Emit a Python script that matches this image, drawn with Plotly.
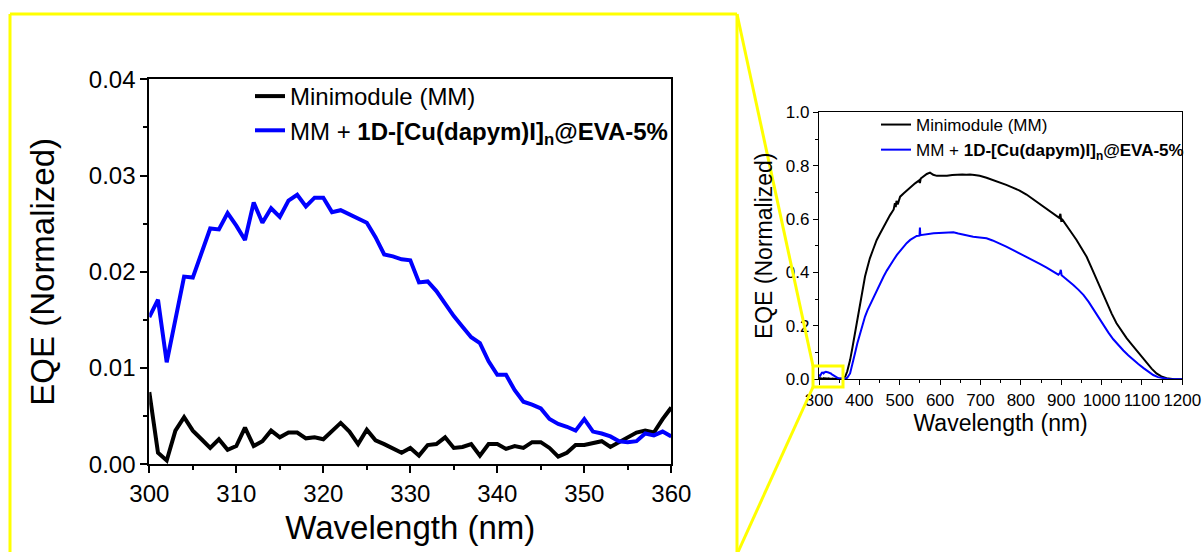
import plotly.graph_objects as go

# ---------------- data ----------------
# Zoomed region (300-360 nm), 1 nm steps
wl_zoom = list(range(300, 361))
mm_zoom = [0.0075, 0.0012, 0.0004, 0.0035, 0.0049, 0.0035, 0.0026, 0.0017, 0.0026, 0.0015,
           0.0019, 0.0038, 0.0019, 0.0024, 0.0035, 0.0028, 0.0033, 0.0033, 0.0027, 0.0028,
           0.0026, 0.0034, 0.0043, 0.0034, 0.0021, 0.0036, 0.0025, 0.0021, 0.0016, 0.0012,
           0.0017, 0.0009, 0.0020, 0.0021, 0.0028, 0.0017, 0.0018, 0.0021, 0.0009, 0.0021,
           0.0021, 0.0016, 0.0019, 0.0017, 0.0023, 0.0023, 0.0017, 0.0008, 0.0012, 0.0020,
           0.0020, 0.0022, 0.0024, 0.0018, 0.0023, 0.0027, 0.0033, 0.0035, 0.0033, 0.0047,
           0.0059]
cu_zoom = [0.0153, 0.0171, 0.0106, 0.0151, 0.0195, 0.0194, 0.0221, 0.0245, 0.0244, 0.0261,
           0.0248, 0.0233, 0.0272, 0.0251, 0.0266, 0.0257, 0.0274, 0.0280, 0.0268, 0.0277,
           0.0277, 0.0262, 0.0264, 0.0260, 0.0256, 0.0251, 0.0236, 0.0218, 0.0216, 0.0213,
           0.0212, 0.0189, 0.0190, 0.0180, 0.0167, 0.0154, 0.0143, 0.0132, 0.0126, 0.0107,
           0.0093, 0.0093, 0.0077, 0.0065, 0.0062, 0.0058, 0.0047, 0.0042, 0.0039, 0.0035,
           0.0047, 0.0034, 0.0032, 0.0029, 0.0024, 0.0023, 0.0024, 0.0032, 0.0030, 0.0034,
           0.0029]

# Full spectrum beyond 360 nm
wl_mm_ext = [365, 370, 377, 383, 389, 395, 402, 408, 414, 420, 426, 435, 443, 452, 460, 468,
             476, 485, 488, 490, 492, 495, 501, 510, 518, 526, 538, 548, 550, 552, 560, 567,
             575, 583, 592, 605, 617, 630, 641, 655, 665, 674, 685, 698, 715, 731, 748, 764,
             780, 797, 814, 831, 848, 864, 880, 895, 898, 900, 903, 914, 926, 938, 950, 963,
             975, 988, 1000, 1013, 1025, 1037, 1050, 1062, 1075, 1087, 1100, 1112, 1124, 1136,
             1148, 1161, 1170, 1180, 1200]
mm_ext = [0.010, 0.030, 0.072, 0.120, 0.172, 0.235, 0.297, 0.345, 0.385, 0.420, 0.453, 0.490,
          0.522, 0.548, 0.572, 0.594, 0.615, 0.636, 0.660, 0.645, 0.668, 0.655, 0.684, 0.697,
          0.708, 0.719, 0.734, 0.745, 0.735, 0.752, 0.762, 0.769, 0.774, 0.766, 0.762, 0.762,
          0.762, 0.765, 0.767, 0.767, 0.766, 0.767, 0.765, 0.762, 0.755, 0.747, 0.738, 0.728,
          0.718, 0.707, 0.692, 0.674, 0.658, 0.640, 0.622, 0.605, 0.620, 0.595, 0.598, 0.572,
          0.548, 0.522, 0.492, 0.459, 0.418, 0.372, 0.330, 0.285, 0.246, 0.210, 0.180, 0.154,
          0.130, 0.107, 0.083, 0.060, 0.040, 0.022, 0.011, 0.004, 0.001, 0.0, 0.0]

wl_cu_ext = [365, 370, 377, 383, 389, 395, 402, 408, 414, 420, 426, 435, 443, 452, 460, 468,
             476, 485, 493, 501, 509, 517, 526, 534, 542, 549, 550, 551, 559, 570, 584, 597,
             609, 621, 633, 645, 658, 670, 682, 698, 715, 730, 748, 751, 764, 781, 797, 814,
             830, 847, 864, 880, 893, 897, 899, 901, 905, 918, 930, 943, 955, 968, 980, 993,
             1005, 1017, 1029, 1041, 1054, 1066, 1079, 1091, 1104, 1116, 1128, 1140, 1153,
             1165, 1180, 1200]
cu_ext = [0.002, 0.006, 0.022, 0.055, 0.097, 0.135, 0.172, 0.205, 0.235, 0.258, 0.278, 0.308,
          0.335, 0.360, 0.385, 0.407, 0.428, 0.448, 0.466, 0.482, 0.497, 0.510, 0.522, 0.530,
          0.537, 0.538, 0.568, 0.540, 0.542, 0.545, 0.547, 0.548, 0.549, 0.550, 0.551, 0.546,
          0.541, 0.537, 0.534, 0.531, 0.528, 0.520, 0.509, 0.505, 0.497, 0.484, 0.472, 0.459,
          0.446, 0.432, 0.418, 0.403, 0.392, 0.398, 0.410, 0.390, 0.385, 0.370, 0.353, 0.335,
          0.316, 0.290, 0.262, 0.232, 0.200, 0.175, 0.150, 0.128, 0.108, 0.090, 0.072, 0.057,
          0.042, 0.028, 0.016, 0.008, 0.003, 0.001, 0.0, 0.0]

name_mm = "Minimodule (MM)"
name_cu = "MM + <b>1D-[Cu(dapym)I]<sub>n</sub>@EVA-5%</b>"

# ---------------- figure ----------------
W, H = 1202, 552
FONT = "Liberation Sans, Arial, sans-serif"
YEL = "#FFFF00"

def fx(p):
    return p / W

def fy(p):
    return 1 - p / H

fig = go.Figure()

# zoomed plot
fig.add_trace(go.Scatter(x=wl_zoom, y=mm_zoom, mode="lines", name=name_mm,
                         line=dict(color="black", width=4), xaxis="x", yaxis="y",
                         legend="legend"))
fig.add_trace(go.Scatter(x=wl_zoom, y=cu_zoom, mode="lines", name=name_cu,
                         line=dict(color="#0000FF", width=4), xaxis="x", yaxis="y",
                         legend="legend"))

# full plot
fig.add_trace(go.Scatter(x=wl_zoom + wl_mm_ext, y=mm_zoom + mm_ext, mode="lines", name=name_mm,
                         line=dict(color="black", width=2), xaxis="x2", yaxis="y2",
                         legend="legend2"))
fig.add_trace(go.Scatter(x=wl_zoom + wl_cu_ext, y=cu_zoom + cu_ext, mode="lines", name=name_cu,
                         line=dict(color="#0000FF", width=2), xaxis="x2", yaxis="y2",
                         legend="legend2"))

axis_common = dict(showline=True, mirror=True, linecolor="black", showgrid=False,
                   zeroline=False, ticks="outside", tickcolor="black", automargin=False)

fig.update_layout(
    width=W, height=H,
    margin=dict(l=0, r=0, t=0, b=0),
    paper_bgcolor="white", plot_bgcolor="white",
    font=dict(family=FONT, color="black"),
    xaxis=dict(domain=[fx(149.3), fx(671.3)], range=[300, 360], dtick=10, tick0=300,
               linewidth=2, ticklen=7, tickwidth=1.5,
               minor=dict(dtick=5, ticklen=4, tickwidth=1.5, ticks="outside", tickcolor="black"),
               tickfont=dict(size=24),
               title=dict(text="Wavelength (nm)", font=dict(size=33), standoff=10),
               anchor="y", **axis_common),
    yaxis=dict(domain=[fy(464.3), fy(79.3)], range=[0, 0.04], dtick=0.01, tickformat=".2f",
               linewidth=2, ticklen=7, tickwidth=1.5,
               minor=dict(dtick=0.005, ticklen=4, tickwidth=1.5, ticks="outside", tickcolor="black"),
               tickfont=dict(size=24),
               title=dict(text="EQE (Normalized)", font=dict(size=33), standoff=24),
               anchor="x", **axis_common),
    xaxis2=dict(domain=[fx(819), fx(1182.3)], range=[300, 1200], dtick=100, tick0=300,
                linewidth=1.2, ticklen=5, tickwidth=1,
                minor=dict(dtick=50, ticklen=3, tickwidth=1, ticks="outside", tickcolor="black"),
                tickfont=dict(size=17),
                title=dict(text="Wavelength (nm)", font=dict(size=23), standoff=3),
                anchor="y2", **axis_common),
    yaxis2=dict(domain=[fy(379.3), fy(112.3)], range=[0, 1.0], dtick=0.2, tickformat=".1f",
                linewidth=1.2, ticklen=5, tickwidth=1,
                minor=dict(dtick=0.1, ticklen=3, tickwidth=1, ticks="outside", tickcolor="black"),
                tickfont=dict(size=17),
                title=dict(text="EQE (Normalized)", font=dict(size=23), standoff=6),
                anchor="x2", **axis_common),
    legend=dict(x=fx(250), y=fy(74), xanchor="left", yanchor="top",
                bgcolor="rgba(0,0,0,0)", font=dict(size=24), tracegroupgap=0,
                itemclick=False),
    legend2=dict(x=fx(876), y=fy(107), xanchor="left", yanchor="top",
                 bgcolor="rgba(0,0,0,0)", font=dict(size=17), tracegroupgap=0,
                 itemclick=False),
    showlegend=True,
)

# yellow zoom indicator
shapes = [
    dict(type="line", x0=fx(10), y0=fy(14), x1=fx(737), y1=fy(14)),
    dict(type="line", x0=fx(10), y0=fy(14), x1=fx(10), y1=fy(560)),
    dict(type="line", x0=fx(737), y0=fy(14), x1=fx(737), y1=fy(560)),
    dict(type="line", x0=fx(737), y0=fy(14), x1=fx(813), y1=fy(366)),
    dict(type="line", x0=fx(813), y0=fy(387), x1=fx(738), y1=fy(552)),
    dict(type="rect", x0=fx(813), y0=fy(387), x1=fx(843), y1=fy(366)),
]
for s in shapes:
    s.update(xref="paper", yref="paper", line=dict(color=YEL, width=3))
fig.update_layout(shapes=shapes)

fig.write_html("out.html")
